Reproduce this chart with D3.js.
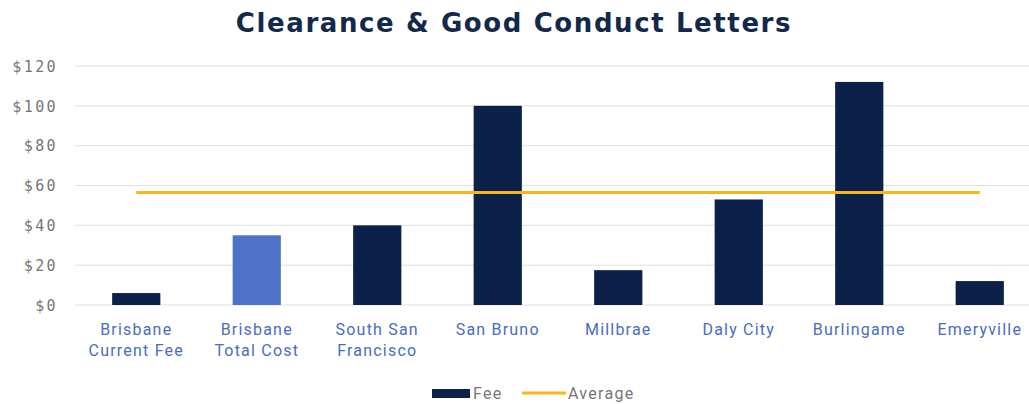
<!DOCTYPE html>
<meta charset="utf-8">
<style>
body {
    margin: 0;
    background: #fff;
}
.title {
    font-family: "DejaVu Sans", sans-serif;
    font-weight: bold;
    font-size: 26px;
    letter-spacing: 1.6px;
    fill: #13294b;
}
.y-axis text {
    font-family: "DejaVu Sans Mono", monospace;
    font-size: 15px;
    letter-spacing: 2.4px;
    fill: #767676;
}
.x-label {
    font-family: Roboto, sans-serif;
    font-size: 16px;
    letter-spacing: 1.2px;
    fill: #4a6cc2;
}
.grid line {
    stroke: #e0e0e0;
    stroke-width: 1px;
}
.legend text {
    font-family: Roboto, sans-serif;
    font-size: 16px;
    letter-spacing: 1.3px;
    fill: #767676;
}
</style>
<svg width="1029" height="404"></svg>

<script src="https://cdn.jsdelivr.net/npm/d3@7/dist/d3.min.js"></script>
<script>
let categories = [
    ['Brisbane', 'Current Fee'],
    ['Brisbane', 'Total Cost'],
    ['South San', 'Francisco'],
    ['San Bruno'],
    ['Millbrae'],
    ['Daly City'],
    ['Burlingame'],
    ['Emeryville']
];
let fees = [6, 35, 40, 100, 17.5, 53, 112, 12];
let average = 56.5;
let highlighted = [1];
let yTicks = [0, 20, 40, 60, 80, 100, 120];

let svg = d3.select('svg');
let keys = categories.map(c => c.join(' '));

let x = d3.scaleBand()
    .domain(keys)
    .range([76, 1040])
    .paddingInner(0.6)
    .paddingOuter(0.3);

let y = d3.scaleLinear()
    .domain([0, 120])
    .range([305, 66]);

svg.append('text').attr('class', 'title')
    .attr('x', 514).attr('y', 32)
    .attr('text-anchor', 'middle')
    .text('Clearance & Good Conduct Letters');

// gridlines
svg.append('g').attr('class', 'grid')
    .selectAll('line')
    .data(yTicks)
    .enter().append('line')
        .attr('x1', 75).attr('x2', 1029)
        .attr('y1', d => y(d)).attr('y2', d => y(d));

let yAxis = svg.append('g').attr('class', 'y-axis')
    .attr('transform', 'translate(58,0)')
    .call(d3.axisLeft(y).tickValues(yTicks).tickSize(0).tickPadding(0)
        .tickFormat(d => '$' + d));
yAxis.select('.domain').remove();
yAxis.selectAll('text').attr('dy', '0.35em');

svg.append('g').attr('class', 'bars')
    .selectAll('rect')
    .data(fees)
    .enter().append('rect')
        .attr('x', (d, i) => x(keys[i]))
        .attr('width', x.bandwidth())
        .attr('y', d => y(d))
        .attr('height', d => y(0) - y(d))
        .attr('fill', (d, i) => highlighted.includes(i) ? '#4f74c7' : '#0b2149');

// average line across the category centres
let avgLine = d3.line()
    .x(k => x(k) + x.bandwidth() / 2)
    .y(() => y(average));
svg.append('path')
    .datum(keys)
    .attr('d', avgLine)
    .attr('fill', 'none')
    .attr('stroke', '#fbb515')
    .attr('stroke-width', 3);

let labels = svg.append('g')
    .selectAll('text')
    .data(categories)
    .enter().append('text')
        .attr('class', 'x-label')
        .attr('text-anchor', 'middle')
        .attr('x', (d, i) => x(keys[i]) + x.bandwidth() / 2)
        .attr('y', 335);
labels.selectAll('tspan')
    .data(d => d)
    .enter().append('tspan')
        .attr('x', function() { return d3.select(this.parentNode).attr('x'); })
        .attr('dy', (d, i) => i === 0 ? 0 : 21)
        .text(d => d);

let legend = svg.append('g').attr('class', 'legend');
legend.append('rect')
    .attr('x', 432).attr('y', 389).attr('width', 38).attr('height', 9)
    .attr('fill', '#0b2149');
legend.append('text').attr('x', 473).attr('y', 399).text('Fee');
legend.append('line')
    .attr('x1', 522).attr('x2', 566).attr('y1', 393).attr('y2', 393)
    .attr('stroke', '#fbb515').attr('stroke-width', 3);
legend.append('text').attr('x', 568).attr('y', 399).text('Average');
</script>
